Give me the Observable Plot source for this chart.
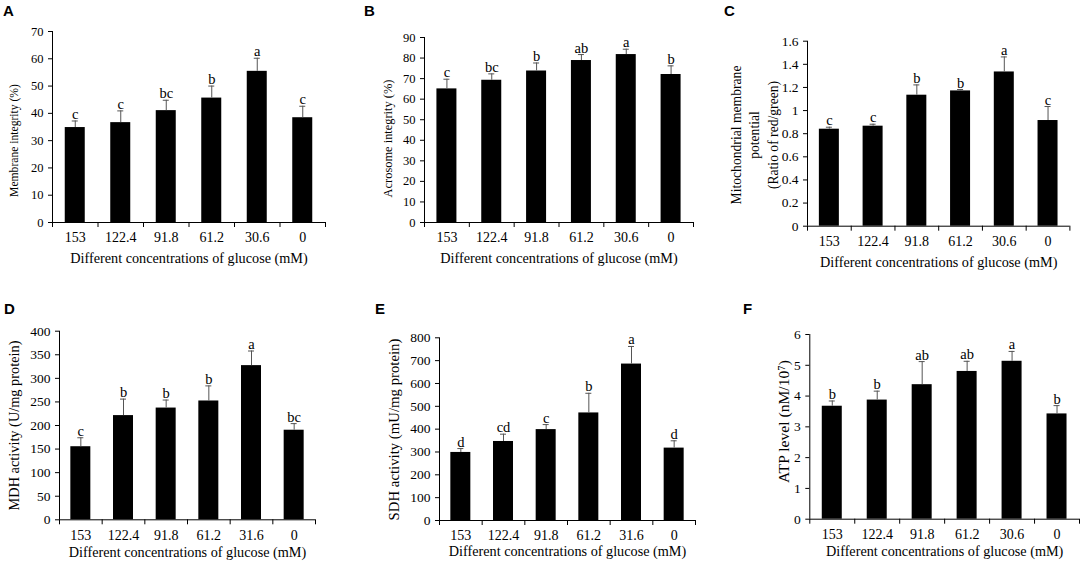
<!DOCTYPE html>
<html><head><meta charset="utf-8">
<script src="https://cdn.jsdelivr.net/npm/d3@7"></script>
<script src="https://cdn.jsdelivr.net/npm/@observablehq/plot@0.6"></script>
<style>
body{margin:0;background:#fff;}
#root{position:relative;width:1084px;height:566px;overflow:hidden;background:#fff;}
.panel{position:absolute;}
.letter{position:absolute;font:bold 15px "Liberation Sans",Arial,sans-serif;line-height:15px;color:#000;}
</style></head><body><div id="root"></div>
<script>
// ---- data ----
const concTop = ["153", "122.4", "91.8", "61.2", "30.6", "0"];
const concD = ["153", "122.4", "91.8", "61.2", "31.6", "0"];
const concE = ["153", "122.4", "91.8", "61.2", "31.6", "0"];
const concF = ["153", "122.4", "91.8", "61.2", "30.6", "0"];

const membraneMean = [34.8, 36.6, 41.0, 45.6, 55.4, 38.4];
const membraneErr  = [2.4, 4.3, 3.8, 4.4, 4.8, 4.2];
const membraneSig  = ["c", "c", "bc", "b", "a", "c"];

const acrosomeMean = [65.0, 69.2, 73.7, 78.8, 81.7, 72.0];
const acrosomeErr  = [4.7, 3.1, 3.9, 2.9, 2.6, 4.2];
const acrosomeSig  = ["c", "bc", "b", "ab", "a", "b"];

const mmpMean = [0.839, 0.865, 1.133, 1.170, 1.334, 0.914];
const mmpErr  = [0.017, 0.017, 0.089, 0.012, 0.130, 0.121];
const mmpSig  = ["c", "c", "b", "b", "a", "c"];

const mdhMean = [155, 221, 237, 252, 327, 190];
const mdhErr  = [19, 35, 17, 32, 31, 14];
const mdhSig  = ["c", "b", "b", "b", "a", "bc"];

const sdhMean = [298, 346, 398, 471, 685, 317];
const sdhErr  = [17, 32, 22, 86, 77, 32];
const sdhSig  = ["d", "cd", "c", "b", "a", "d"];

const atpMean = [3.67, 3.87, 4.37, 4.80, 5.13, 3.42];
const atpErr  = [0.17, 0.29, 0.75, 0.33, 0.32, 0.27];
const atpSig  = ["b", "b", "ab", "ab", "a", "b"];

const xTitle = "Different concentrations of glucose (mM)";

const panels = [
  {id:"A", cats:concTop, mean:membraneMean, err:membraneErr, sig:membraneSig,
   yLabel:["Membrane integrity (%)"], yTicks:d3.range(0, 71, 10), yMax:70,
   left:0, top:0, w:360, h:280, ml:52, mr:35, mt:31, mb:58,
   yLabDx:-42.7, yLabCenter:140, yLabLen:113, yTickSize:12.5, xLabDy:30,
   letter:[3,5]},
  {id:"B", cats:concTop, mean:acrosomeMean, err:acrosomeErr, sig:acrosomeSig,
   yLabel:["Acrosome integrity (%)"], yTicks:d3.range(0, 91, 10), yMax:90,
   left:360, top:0, w:360, h:280, ml:64, mr:27, mt:37, mb:58,
   yLabDx:-41.3, yLabCenter:138, yLabLen:118, yTickSize:12.5, xLabDy:30,
   letter:[364,5]},
  {id:"C", cats:concTop, mean:mmpMean, err:mmpErr, sig:mmpSig,
   yLabel:["Mitochondrial membrane", "potential", "(Ratio of red/green)"], yTicks:d3.range(0, 9).map(k => k / 5), yMax:1.6,
   left:720, top:0, w:364, h:280, ml:87, mr:14.6, mt:40.7, mb:54.3,
   yLabDx:-76.3, yLabCenter:134.5, yLabLen:139, yTickSize:13.5, xLabDy:31, lineGap:18.5,
   letter:[724,5]},
  {id:"D", cats:concD, mean:mdhMean, err:mdhErr, sig:mdhSig,
   yLabel:["MDH activity (U/mg protein)"], yTicks:d3.range(0, 401, 50), yMax:400,
   left:0, top:280, w:360, h:286, ml:59, mr:45, mt:50.7, mb:46.7,
   yLabDx:-51, yLabCenter:145, yLabLen:170, yTickSize:13.5, xLabDy:27.4,
   letter:[4,303]},
  {id:"E", cats:concE, mean:sdhMean, err:sdhErr, sig:sdhSig,
   yLabel:["SDH activity (mU/mg protein)"], yTicks:d3.range(0, 801, 100), yMax:800,
   left:360, top:280, w:360, h:286, ml:79, mr:25, mt:57.3, mb:46,
   yLabDx:-51, yLabCenter:149, yLabLen:182, yTickSize:13.5, xLabDy:25,
   letter:[375,303]},
  {id:"F", cats:concF, mean:atpMean, err:atpErr, sig:atpSig,
   yLabel:["ATP level (nM/10\u2077)"], yTicks:d3.range(0, 7, 1), yMax:6,
   left:720, top:280, w:364, h:286, ml:89.3, mr:5, mt:54, mb:47.3,
   yLabDx:-32, yLabCenter:141, yLabLen:123, yTickSize:13.5, xLabDy:26.3,
   letter:[743,303]}
];

const root = document.getElementById("root");
const serif = '"Liberation Serif","Times New Roman",serif';
const xTitleLen = 237.5;

// fit a text element's font size to a target length, measured in the page
function fitText(el, target) {
  const size = parseFloat(getComputedStyle(el).fontSize);
  const len = el.getComputedTextLength();
  if (len > 0) el.style.fontSize = (size * target / len) + "px";
}

for (const p of panels) {
  const rows = p.cats.map((c, i) => ({i, c, v: p.mean[i], e: p.err[i], s: p.sig[i]}));
  const n = rows.length;
  const step = (p.w - p.ml - p.mr) / n;
  const inset = (step - 20) / 2;
  const ySize = 14;
  const frameCenter = (p.mt + (p.h - p.mb)) / 2;
  const gap = p.lineGap || ySize;
  const yLabRows = p.yLabel.map((t, k) => ({t, k}));
  const chart = Plot.plot({
    width: p.w, height: p.h,
    marginLeft: p.ml, marginRight: p.mr, marginTop: p.mt, marginBottom: p.mb,
    style: `font-family: ${serif}; font-size: 14px; color: #000; background: transparent; overflow: visible;`,
    x: {domain: [0, n], axis: null},
    y: {domain: [0, p.yMax], axis: null},
    marks: [
      Plot.rectY(rows, {x1: "i", x2: d => d.i + 1, y: "v", fill: "#000", insetLeft: inset, insetRight: inset}),
      Plot.ruleX(rows, {x: d => d.i + 0.5, y1: "v", y2: d => d.v + d.e, stroke: "#555", strokeWidth: 1}),
      Plot.ruleY(rows, {y: d => d.v + d.e, x1: d => d.i + 0.5, x2: d => d.i + 0.5, insetLeft: -3, insetRight: -3, stroke: "#555"}),
      Plot.text(rows, {x: d => d.i + 0.5, y: d => d.v + d.e, text: "s", lineAnchor: "bottom", dy: -2, fontSize: 14.5, fill: "#000"}),
      Plot.axisY({ticks: p.yTicks, tickSize: 4, tickPadding: 5, fontSize: p.yTickSize,
                  tickFormat: d => String(+d.toFixed(2)), label: null}),
      Plot.axisX({ticks: d3.range(n + 1), tickSize: 5, tickFormat: () => "", label: null}),
      Plot.axisX({ticks: rows.map(r => r.i + 0.5), tickSize: 0, tickPadding: 10, fontSize: 14,
                  tickFormat: d => p.cats[Math.floor(d)], label: null}),
      Plot.ruleX([0], {stroke: "#000"}),
      Plot.ruleY([0], {stroke: "#000"}),
      ...yLabRows.map(r => Plot.text([r.t], {text: d => d, frameAnchor: "left", rotate: -90, textAnchor: "middle", lineAnchor: "top",
                  dx: p.yLabDx + r.k * gap, dy: p.yLabCenter - frameCenter, fontSize: ySize, fill: "#000"})),
      Plot.text([xTitle], {text: d => d, frameAnchor: "bottom", lineAnchor: "top", dy: p.xLabDy, fontSize: 14, fill: "#000"})
    ]
  });
  const sel = d3.select(chart);
  sel.selectAll('[aria-label="y-axis tick label"]').attr("font-size", p.yTickSize);
  sel.selectAll('[aria-label="x-axis tick label"]').attr("font-size", 14);
  chart.classList.add("panel");
  chart.style.left = p.left + "px";
  chart.style.top = p.top + "px";
  root.appendChild(chart);
  // size the titles to the reference lengths
  sel.selectAll("text").each(function () {
    const t = this.textContent;
    if (t === xTitle) fitText(this, xTitleLen);
  });
  let yScale = null;
  sel.selectAll("text").each(function () {
    if (this.textContent === p.yLabel[0]) {
      const size = parseFloat(getComputedStyle(this).fontSize);
      yScale = p.yLabLen / this.getComputedTextLength();
    }
  });
  if (yScale) {
    sel.selectAll("text").each(function () {
      if (p.yLabel.includes(this.textContent)) this.style.fontSize = (14 * yScale) + "px";
    });
  }
  const L = document.createElement("div");
  L.className = "letter";
  L.textContent = p.id;
  L.style.left = p.letter[0] + "px";
  L.style.top = (p.letter[1] - 2) + "px";
  root.appendChild(L);
}
</script>
</body></html>
